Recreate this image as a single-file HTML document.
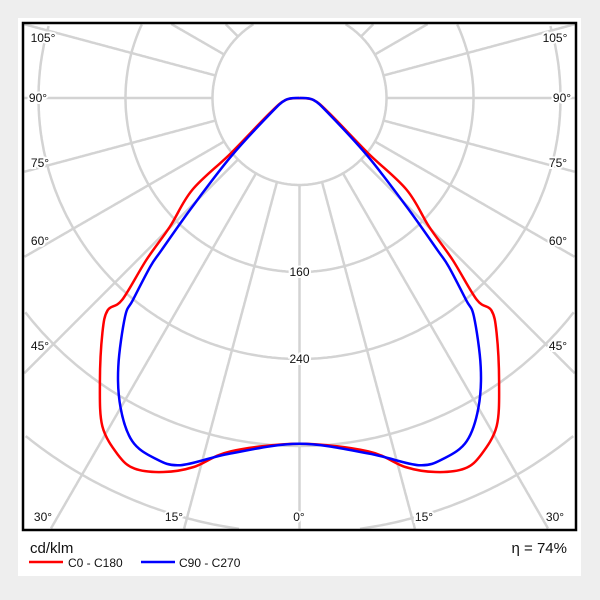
<!DOCTYPE html>
<html><head><meta charset="utf-8"><style>
html,body{margin:0;padding:0;background:#eeeeee;width:600px;height:600px;overflow:hidden}
svg{display:block}
text{font-family:"Liberation Sans",sans-serif}
</style></head><body>
<svg id="chart" width="600" height="600" viewBox="0 0 600 600" style="overflow:hidden">
<rect x="18" y="18" width="563" height="558" fill="#fff"/>
<defs><clipPath id="plotclip"><rect x="24" y="24" width="551" height="505"/></clipPath></defs>
<g id="grid" clip-path="url(#plotclip)"></g>
<g id="series" clip-path="url(#plotclip)"></g>
<g id="labels"></g>
<rect x="23" y="23" width="553" height="507" fill="none" stroke="#000" stroke-width="2.5"/>
<text x="30" y="553" font-size="15" fill="#111">cd/klm</text>
<text x="567" y="553" font-size="15" fill="#111" text-anchor="end">η = 74%</text>
<line x1="29" y1="562" x2="63" y2="562" stroke="#ff0000" stroke-width="2.5"/>
<text x="68" y="567" font-size="12" fill="#111">C0 - C180</text>
<line x1="141" y1="562" x2="175" y2="562" stroke="#0000ff" stroke-width="2.5"/>
<text x="179" y="567" font-size="12" fill="#111">C90 - C270</text>
</svg>
<script>
const ringValues=[80,160,240,320,400,480];
const ringLabels=["160","240"];
const spokeAngles=[];for(let a=0;a<360;a+=15)spokeAngles.push(a);
const redGamma=[0,11,16,20,24,27,31,35,40,42.1,41.3,43.4,45.2,49.4,51.2,62.8,82,90];
const redValues=[318,331,353,366,373,368,352,320,282,263,247,205,168,130,81,31,13,0];
const blueGamma=[0,11,18,22,26,30,34,38.6,39.5,41.5,42.2,44.6,49.5,61,82,90];
const blueValues=[318,333,355,357,351,329,298,257,241,207,189,140,83,32,13,0];
const edgeLabels=[["105°",43,42],["90°",38,102],["75°",40,167],["60°",40,245],["45°",40,350],["30°",43,521],["15°",174,521],["0°",299,521]];
const cx=299.5,cy=98,scale=87/80;
const X0=24,X1=575,Y0=24,Y1=529;
const NS="http://www.w3.org/2000/svg";
function rad(v){return v*scale;}
function pt(g,v,side){const r=rad(v),a=g*Math.PI/180;return [cx+side*r*Math.sin(a),cy+r*Math.cos(a)];}
function inside(p){return p[0]>=X0&&p[0]<=X1&&p[1]>=Y0&&p[1]<=Y1;}
function segsPath(samples){let d='',on=false;samples.forEach(p=>{if(inside(p)){d+=(on?' L':' M')+p[0].toFixed(1)+','+p[1].toFixed(1);on=true;}else on=false;});return d.trim();}
const grid=document.getElementById('grid');
ringValues.forEach(v=>{const s=[];for(let i=0;i<=720;i++){const a=i/720*2*Math.PI;s.push([cx+rad(v)*Math.sin(a),cy+rad(v)*Math.cos(a)]);}
const d=segsPath(s);if(!d)return;const p=document.createElementNS(NS,'path');


p.setAttribute('d',d);p.setAttribute('fill','none');p.setAttribute('stroke','#d3d3d3');p.setAttribute('stroke-width','2.5');grid.appendChild(p);});
spokeAngles.forEach(a=>{const s=[];for(let v=80;v<=600;v+=1)s.push(pt(a,v,1));const d=segsPath(s);if(!d)return;const p=document.createElementNS(NS,'path');


p.setAttribute('d',d);p.setAttribute('fill','none');p.setAttribute('stroke','#d3d3d3');p.setAttribute('stroke-width','2.5');grid.appendChild(p);});
const labels=document.getElementById('labels');
function label(txt,x,y,name){const t=document.createElementNS(NS,'text');


t.setAttribute('x',x);t.setAttribute('y',y);t.setAttribute('font-size','12');t.setAttribute('text-anchor','middle');t.setAttribute('fill','#111');t.setAttribute('stroke','#fff');t.setAttribute('stroke-width','4');t.setAttribute('paint-order','stroke');t.textContent=txt;labels.appendChild(t);}
ringLabels.forEach(s=>{const v=+s;label(s,cx,cy+rad(v)+4,'ring-label');});
edgeLabels.forEach(e=>{label(e[0],e[1],e[2],'angle-label');if(e[1]!==299)label(e[0],598-e[1]+(e[0]==="90°"?2:0),e[2],'angle-label');});
function curve(gs,vs){const pts=[];for(let i=gs.length-1;i>=0;i--)pts.push(pt(gs[i],vs[i],-1));for(let i=1;i<gs.length;i++)pts.push(pt(gs[i],vs[i],1));
let d='M'+pts[0][0].toFixed(1)+','+pts[0][1].toFixed(1);
for(let i=0;i<pts.length-1;i++){const p0=pts[Math.max(0,i-1)],p1=pts[i],p2=pts[i+1],p3=pts[Math.min(pts.length-1,i+2)];
const c1=[p1[0]+(p2[0]-p0[0])/6,p1[1]+(p2[1]-p0[1])/6],c2=[p2[0]-(p3[0]-p1[0])/6,p2[1]-(p3[1]-p1[1])/6];
d+=' C'+c1.map(n=>n.toFixed(1))+' '+c2.map(n=>n.toFixed(1))+' '+p2.map(n=>n.toFixed(1));}
return d;}
const series=document.getElementById('series');
[[redGamma,redValues,'#ff0000','series-c0-c180'],[blueGamma,blueValues,'#0000ff','series-c90-c270']].forEach(s=>{const p=document.createElementNS(NS,'path');


p.setAttribute('d',curve(s[0],s[1]));p.setAttribute('fill','none');p.setAttribute('stroke',s[2]);p.setAttribute('stroke-width','2.5');p.setAttribute('stroke-linejoin','round');series.appendChild(p);});
</script>
</body></html>
